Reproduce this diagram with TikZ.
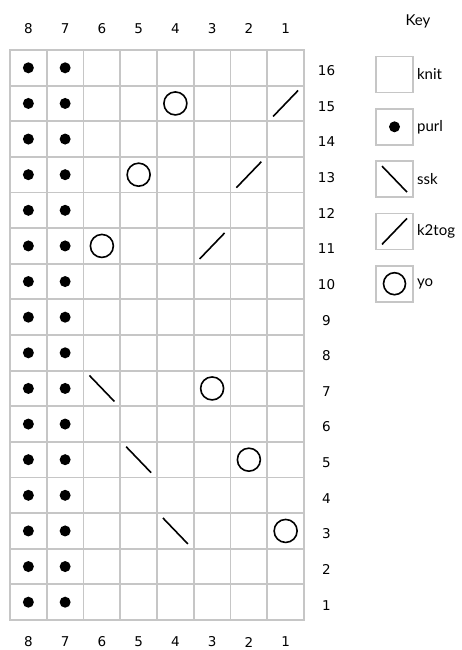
\documentclass[tikz,border=0pt]{standalone}
\usepackage{fontspec}
\setmainfont{DejaVu Sans}
\newfontfamily\keyfont{Lato}
\usetikzlibrary{calc, positioning}

\begin{document}
\begin{tikzpicture}[x=1pt, y=-1pt,
    % Styles for the chart cells and the key boxes
    cell/.style={rectangle, draw=gray!45, line width=1.8pt, minimum width=36.75pt, minimum height=35.6pt, inner sep=0pt},
    key_box/.style={cell, minimum width=37pt, minimum height=36pt},
    % Styles for the texts
    num_label/.style={font=\fontsize{13.5}{15}\selectfont},
    key_label/.style={font=\keyfont\fontsize{15}{17}\selectfont, inner sep=2pt},
    % Styles for the stitch symbols
    stitch/.style={line width=1.6pt, black}
]

    \useasboundingbox (0,0) rectangle (462,650);

    % =========================================================================
    % CHART GRID (8 stitches x 16 rows, numbered from the right / bottom)
    % =========================================================================
    \foreach \r in {1,...,16} {
        \foreach \c in {1,...,8} {
            \node[cell] (c-\r-\c) at ({10+36.75*(8.5-\c)}, {50+35.625*(16.5-\r)}) {};
        }
    }

    % Column numbers above and below, row numbers on the right
    \foreach \c in {1,...,8} {
        \node[num_label] (top-\c) at ({10+36.75*(8.5-\c)}, 28.5) {\c};
        \node[num_label] (bot-\c) at ({10+36.75*(8.5-\c)}, 642) {\c};
    }
    \foreach \r in {1,...,16} {
        \node[num_label] (row-\r) at (326.5, {53+35.625*(16.5-\r)}) {\r};
    }

    % =========================================================================
    % STITCH SYMBOLS
    % =========================================================================
    % purl columns
    \foreach \r in {1,...,16} {
        \foreach \c in {7,8} {
            \fill (c-\r-\c) circle (5.5);
        }
    }
    % yarn overs
    \foreach \r/\c in {15/4, 13/5, 11/6, 7/3, 5/2, 3/1} {
        \draw[stitch] (c-\r-\c) circle (11.5);
    }
    % k2tog
    \foreach \r/\c in {15/1, 13/2, 11/3} {
        \draw[stitch] ($(c-\r-\c)+(-12.5,13)$) -- ($(c-\r-\c)+(12.5,-13)$);
    }
    % ssk
    \foreach \r/\c in {7/6, 5/5, 3/4} {
        \draw[stitch] ($(c-\r-\c)+(-12.5,-13)$) -- ($(c-\r-\c)+(12.5,13)$);
    }

    % =========================================================================
    % KEY
    % =========================================================================
    \node[key_label] (key_title) at (418, 21) {Key};

    \foreach \name [count=\i] in {knit, purl, ssk, k2tog, yo} {
        \node[key_box] (key-\name) at (394.5, {74.5+52.3*(\i-1)}) {};
        \node[key_label, right=1pt of key-\name] (key-\name-text) {\name};
    }

    \fill (key-purl) circle (5.5);
    \draw[stitch] ($(key-ssk)+(-12.5,-13)$) -- ($(key-ssk)+(12.5,13)$);
    \draw[stitch] ($(key-k2tog)+(-12.5,13)$) -- ($(key-k2tog)+(12.5,-13)$);
    \draw[stitch] (key-yo) circle (11);

\end{tikzpicture}
\end{document}
